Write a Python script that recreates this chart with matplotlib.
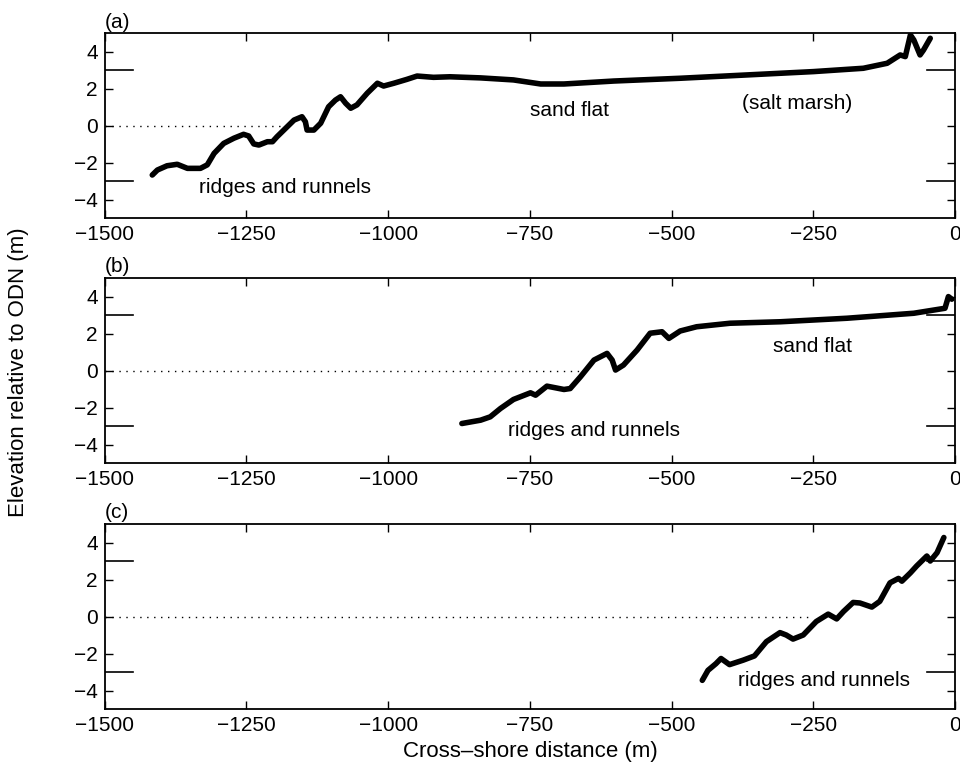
import matplotlib
matplotlib.use("Agg")
import matplotlib.pyplot as plt

plt.rcParams['font.family'] = ['Liberation Sans', 'DejaVu Sans']

# Beach profiles: cross-shore distance (m) and elevation relative to ODN (m)
x_a = [-1416, -1407, -1390, -1372, -1354, -1331, -1319, -1307, -1290, -1272, -1255,
       -1246, -1237, -1228, -1213, -1204, -1196, -1178, -1166, -1152, -1146, -1143,
       -1131, -1119, -1105, -1093, -1084, -1075, -1066, -1055, -1037, -1019, -1008,
       -990, -967, -949, -920, -891, -837, -779, -731, -690, -602, -485, -367, -250,
       -162, -120, -97, -88, -79, -73, -62, -56, -44]
z_a = [-2.65, -2.38, -2.15, -2.07, -2.29, -2.29, -2.10, -1.48, -0.94, -0.66, -0.45,
       -0.54, -0.97, -1.03, -0.85, -0.85, -0.58, -0.04, 0.32, 0.50, 0.23, -0.22,
       -0.22, 0.15, 1.04, 1.40, 1.58, 1.23, 0.96, 1.14, 1.77, 2.31, 2.16,
       2.31, 2.52, 2.70, 2.63, 2.66, 2.60, 2.49, 2.27, 2.27, 2.43, 2.58, 2.76, 2.94,
       3.12, 3.39, 3.84, 3.75, 4.92, 4.65, 3.84, 4.10, 4.74]

x_b = [-870, -837, -820, -802, -779, -749, -740, -720, -690, -679, -661, -637,
       -614, -605, -599, -585, -561, -538, -517, -505, -485, -456, -397, -308,
       -191, -73, -18, -12, -6]
z_b = [-2.86, -2.68, -2.50, -2.05, -1.56, -1.20, -1.33, -0.84, -1.02, -0.97, -0.34, 0.57,
       0.93, 0.57, 0.03, 0.30, 1.11, 2.02, 2.10, 1.74, 2.14, 2.37, 2.56, 2.64,
       2.83, 3.10, 3.37, 4.00, 3.86]

x_c = [-446, -436, -422, -413, -398, -374, -354, -333, -309, -298, -286, -268,
       -245, -224, -209, -197, -180, -168, -147, -133, -115, -100, -94, -79,
       -68, -50, -44, -32, -20]
z_c = [-3.45, -2.91, -2.55, -2.27, -2.60, -2.36, -2.13, -1.36, -0.87, -1.00, -1.22, -1.00,
       -0.27, 0.13, -0.13, 0.27, 0.76, 0.73, 0.51, 0.82, 1.82, 2.06, 1.91, 2.36,
       2.73, 3.27, 3.00, 3.45, 4.27]

# Where each profile crosses ODN (end of the dotted datum line)
zero_cross = [-1190, -662, -258]

# Tide levels marked at the panel edges
tide_levels = [3, -3]

panel_tags = ['(a)', '(b)', '(c)']
annotations = [
    [("ridges and runnels", -1334, -3.35), ("sand flat", -749, 0.86),
     ("(salt marsh)", -376, 1.24)],
    [("ridges and runnels", -789, -3.22), ("sand flat", -322, 1.29)],
    [("ridges and runnels", -383, -3.45)],
]

x_ticks = [-1500, -1250, -1000, -750, -500, -250, 0]
y_ticks = [-4, -2, 0, 2, 4]

profiles = [(x_a, z_a), (x_b, z_b), (x_c, z_c)]

FS = 15

fig = plt.figure(figsize=(9.6, 7.68), dpi=100)
lefts = 0.109
width = 0.886
bottoms = [0.7155, 0.397, 0.0768]
height = 0.2409

for i, (px, pz) in enumerate(profiles):
    ax = fig.add_axes([lefts, bottoms[i], width, height])
    ax.plot([-1500, zero_cross[i]], [0, 0], linestyle=(0, (1, 4)), color='black',
            linewidth=1.0)
    for lvl in tide_levels:
        ax.plot([-1500, -1450], [lvl, lvl], color='black', linewidth=1.2)
        ax.plot([-50, 0], [lvl, lvl], color='black', linewidth=1.2)
    ax.plot(px, pz, color='black', linewidth=4.0, solid_capstyle='round',
            solid_joinstyle='round')
    for txt, tx, ty in annotations[i]:
        ax.text(tx, ty, txt, fontsize=FS, ha='left', va='center')
    ax.set_xlim(-1500, 0)
    ax.set_ylim(-5, 5)
    ax.set_xticks(x_ticks)
    ax.set_xticklabels(['\u22121500', '\u22121250', '\u22121000', '\u2212750',
                        '\u2212500', '\u2212250', '0'])
    ax.set_yticks(y_ticks)
    ax.set_yticklabels(['\u22124', '\u22122', '0', '2', '4'])
    ax.tick_params(direction='in', length=6, width=1.0, top=True, right=True,
                   labelsize=FS, pad=5)
    for sp in ax.spines.values():
        sp.set_linewidth(1.3)
    ax.text(0.0, 1.01, panel_tags[i], transform=ax.transAxes, fontsize=FS,
            ha='left', va='bottom')

fig.text(0.019, 0.515, 'Elevation relative to ODN (m)', rotation=90, fontsize=16,
         ha='center', va='center')
fig.text(0.552, 0.021, 'Cross\u2013shore distance (m)', fontsize=16,
         ha='center', va='center')

fig.savefig('out.png', dpi=100)
